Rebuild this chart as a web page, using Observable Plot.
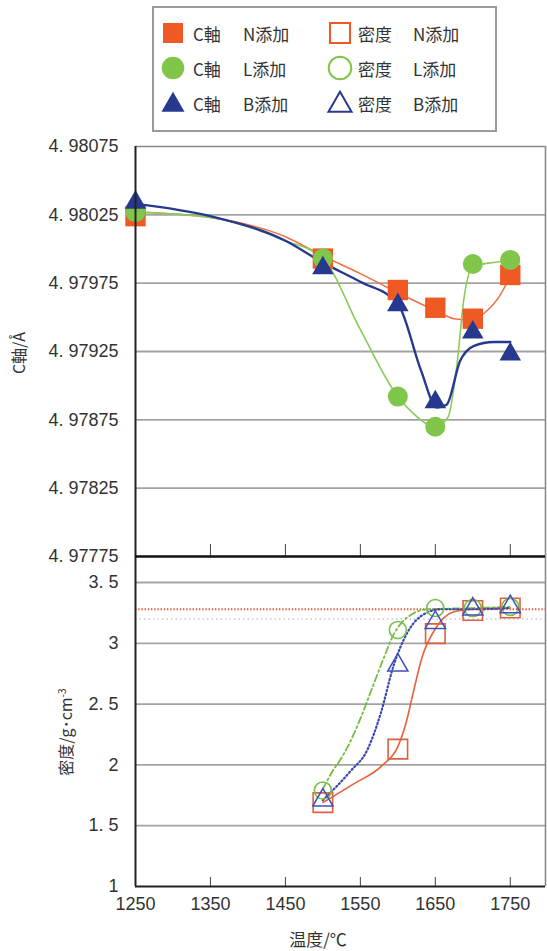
<!DOCTYPE html>
<html><head><meta charset="utf-8">
<script src="https://cdn.jsdelivr.net/npm/d3@7"></script>
<script src="https://cdn.jsdelivr.net/npm/@observablehq/plot@0.6"></script>
<style>
body{margin:0;background:#fff;}
#wrap{position:relative;width:547px;height:951px;overflow:hidden;background:#fff;font-family:"Liberation Sans",Arial,sans-serif;color:#333;}
.vlab{position:absolute;font-family:"Noto Sans CJK JP",sans-serif;color:#333;white-space:nowrap;transform:translate(-50%,-50%) rotate(-90deg);line-height:1;}
.xlab{position:absolute;font-family:"Noto Sans CJK JP",sans-serif;color:#333;white-space:nowrap;transform:translate(-50%,-50%);line-height:1;}
</style></head><body>
<div id="wrap"></div>
<script>
// ---------- data ----------
const temps = [1250, 1500, 1600, 1650, 1700, 1750];
const cAxisN = [4.98024, 4.97993, 4.97970, 4.97957, 4.97949, 4.97981];
const cAxisL = [4.98027, 4.97993, 4.97892, 4.97870, 4.97989, 4.97992];
const cAxisB = [4.98034, 4.97986, 4.97959, 4.97888, 4.97939, 4.97923];

const densT = [1500, 1600, 1650, 1700, 1750];
const densN = [1.69, 2.13, 3.08, 3.27, 3.29];
const densL = [1.79, 3.11, 3.29, 3.29, 3.30];
const densB = [1.71, 2.82, 3.17, 3.28, 3.30];

// fitted curves [temperature, value]
const fitCN = [[1250,4.98027],[1350,4.98023],[1450,4.98009],[1500,4.97995],[1550,4.97982],[1600,4.97968],[1650,4.97955],[1675,4.97949],[1700,4.97948],[1715,4.97953],[1735,4.97965],[1750,4.97980]];
const fitCL = [[1250,4.98027],[1350,4.98023],[1450,4.98006],[1500,4.97993],[1550,4.97941],[1600,4.97892],[1622,4.97879],[1650,4.97870],[1667,4.97877],[1679,4.97916],[1688,4.97963],[1700,4.97987],[1725,4.97990],[1750,4.97991]];
const fitCB = [[1250,4.98033],[1350,4.98024],[1450,4.98006],[1500,4.97990],[1550,4.97976],[1600,4.97960],[1631,4.97911],[1652,4.97884],[1665,4.97886],[1683,4.97918],[1701,4.97929],[1728,4.97932],[1750,4.97932]];

const fitDN = [[1500,1.69],[1540,1.84],[1580,2.00],[1600,2.15],[1612,2.37],[1620,2.58],[1632,2.88],[1650,3.12],[1675,3.26],[1700,3.28],[1750,3.29]];
const fitDL = [[1500,1.80],[1512,1.94],[1523,2.04],[1534,2.16],[1550,2.38],[1565,2.62],[1580,2.86],[1595,3.08],[1612,3.21],[1640,3.28],[1700,3.29],[1750,3.30]];
const fitDB = [[1500,1.71],[1537,1.95],[1559,2.12],[1577,2.42],[1594,2.81],[1612,3.08],[1630,3.22],[1657,3.28],[1700,3.28],[1750,3.29]];

const refDensityRed = [3.28];
const refDensityBlue = [3.20];

const xTicks = [1250, 1350, 1450, 1550, 1650, 1750];
const cTicks = [4.97775, 4.97825, 4.97875, 4.97925, 4.97975, 4.98025, 4.98075];
const dTicks = [1, 1.5, 2, 2.5, 3, 3.5];

const legendKinds = ["C軸", "密度"];
const legendAdds = ["N添加", "L添加", "B添加"];

// ---------- styles ----------
const ORANGE = "#ef5a24", GREEN = "#80c64a", BLUE = "#27398f";
const xDomain = [1250, 1797];
const fmtC = d => d.toFixed(5).replace(".", ". ");
const fmtD = d => Number.isInteger(d) ? String(d) : d.toFixed(1).replace(".", ". ");

const topRows = temps.map((t, i) => ({t, N: cAxisN[i], L: cAxisL[i], B: cAxisB[i]}));
const botRows = densT.map((t, i) => ({t, N: densN[i], L: densL[i], B: densB[i]}));

const wrap = document.getElementById("wrap");
const baseStyle = {fontFamily: "Liberation Sans, Arial, sans-serif", fontSize: "18px", color: "#333", background: "transparent", overflow: "visible"};

// ---------- legend ----------
const leg = d3.create("svg").attr("width", 547).attr("height", 140).style("position","absolute").style("left","0px").style("top","0px");
leg.append("rect").attr("x", 153).attr("y", 7).attr("width", 343).attr("height", 124).attr("fill", "#fff").attr("stroke", "#9a9a9a").attr("stroke-width", 2);
const rowY = [33, 68, 103];
const colors = [ORANGE, GREEN, BLUE];
const syms = [d3.symbolSquare, d3.symbolCircle, d3.symbolTriangle];
const symSize = [400, 400, 230];
legendAdds.forEach((add, r) => {
  legendKinds.forEach((kind, c) => {
    const mx = c === 0 ? 173 : 340;
    const g = leg.append("path").attr("d", d3.symbol(syms[r], symSize[r])()).attr("transform", `translate(${mx},${rowY[r] + (r===2?2:0)})`);
    if (c === 0) g.attr("fill", colors[r]);
    else g.attr("fill", "none").attr("stroke", colors[r]).attr("stroke-width", 2);
    const tx = c === 0 ? 193 : 358;
    const ax = c === 0 ? 243 : 413;
    leg.append("text").attr("x", tx).attr("y", rowY[r]).attr("dominant-baseline","central").attr("font-family","Noto Sans CJK JP").attr("font-size", 17).attr("fill","#333").text(kind);
    leg.append("text").attr("x", ax).attr("y", rowY[r]).attr("dominant-baseline","central").attr("font-family","Noto Sans CJK JP").attr("font-size", 17).attr("fill","#333").text(add);
  });
});

// ---------- top panel: C axis ----------
const topPlot = Plot.plot({
  width: 547, height: 440, marginLeft: 135, marginRight: 2, marginTop: 16, marginBottom: 14,
  x: {domain: xDomain, axis: null},
  y: {domain: [4.97775, 4.98075]},
  style: baseStyle,
  marks: [
    Plot.ruleY(cTicks.slice(1, -1), {stroke: "#a3a3a3", strokeWidth: 1.8}),
    Plot.ruleY([cTicks[cTicks.length - 1]], {stroke: "#8a8a8a", strokeWidth: 1.6}),
    Plot.ruleX([xDomain[1]], {stroke: "#8a8a8a", strokeWidth: 1.6}),
    Plot.ruleX(xTicks.slice(1), {insetTop: 398, stroke: "#444", strokeWidth: 1}),
    Plot.axisY({ticks: cTicks, tickFormat: fmtC, tickSize: 0, tickPadding: 17, label: null}),
    Plot.line(fitCN, {curve: "monotone-x", stroke: "#f07040", strokeWidth: 1.5}),
    Plot.line(fitCL, {curve: "monotone-x", stroke: "#8acb5a", strokeWidth: 1.6}),
    Plot.line(fitCB, {curve: "monotone-x", stroke: BLUE, strokeWidth: 2.4}),
    Plot.dot(topRows, {x: "t", y: "N", symbol: "square", r: 11.5, fill: ORANGE}),
    Plot.dot(topRows, {x: "t", y: "L", symbol: "circle", r: 10, fill: GREEN}),
    Plot.dot(topRows, {x: "t", y: "B", symbol: "triangle", r: 8, fill: BLUE}),
    Plot.ruleX([xDomain[0]], {stroke: "#222", strokeWidth: 2}),
    Plot.ruleY([cTicks[0]], {stroke: "#111", strokeWidth: 2.5})
  ]
});
topPlot.style.position = "absolute"; topPlot.style.left = "0px"; topPlot.style.top = "130px";

// ---------- bottom panel: density ----------
const botPlot = Plot.plot({
  width: 547, height: 411, marginLeft: 135, marginRight: 2, marginTop: 16, marginBottom: 65,
  x: {domain: xDomain},
  y: {domain: [1, 3.714]},
  style: baseStyle,
  marks: [
    Plot.ruleY(dTicks.slice(1), {stroke: "#a3a3a3", strokeWidth: 1.8}),
    Plot.ruleX([xDomain[1]], {stroke: "#8a8a8a", strokeWidth: 1.6}),
    Plot.ruleX(xTicks.slice(1), {insetTop: 321, stroke: "#444", strokeWidth: 1}),
    Plot.ruleY(refDensityBlue, {stroke: "#7f8fd8", strokeOpacity: 0.5, strokeWidth: 1.3, strokeDasharray: "1.5,3"}),
    Plot.ruleY(refDensityRed, {stroke: "#ee5533", strokeWidth: 2, strokeDasharray: "1.4,1.8"}),
    Plot.axisY({ticks: dTicks, tickFormat: fmtD, tickSize: 0, tickPadding: 17, label: null}),
    Plot.axisX({ticks: xTicks, tickFormat: d => String(d), tickSize: 0, tickPadding: 11, label: null}),
    Plot.line(fitDN, {curve: "monotone-x", stroke: "#e8603c", strokeWidth: 1.6}),
    Plot.line(fitDL, {curve: "monotone-x", stroke: "#74bd45", strokeWidth: 1.8, strokeDasharray: "7,3,2,3"}),
    Plot.line(fitDB, {curve: "monotone-x", stroke: "#3a48b0", strokeWidth: 2.2, strokeDasharray: "1.2,2.6"}),
    Plot.dot(botRows, {x: "t", y: "N", symbol: "square", r: 11, fill: "none", stroke: "#e0603c", strokeWidth: 1.6}),
    Plot.dot(botRows, {x: "t", y: "L", symbol: "circle", r: 8.5, fill: "none", stroke: "#78c048", strokeWidth: 1.6}),
    Plot.dot(botRows, {x: "t", y: "B", symbol: "triangle", r: 7.5, fill: "none", stroke: "#4050b8", strokeWidth: 1.5}),
    Plot.ruleX([xDomain[0]], {stroke: "#222", strokeWidth: 2}),
    Plot.ruleY([dTicks[0]], {stroke: "#222", strokeWidth: 2})
  ]
});
botPlot.style.position = "absolute"; botPlot.style.left = "0px"; botPlot.style.top = "540px";

wrap.appendChild(leg.node());
wrap.appendChild(botPlot);
wrap.appendChild(topPlot);

// axis titles
const yl1 = document.createElement("div"); yl1.className = "vlab"; yl1.style.left = "18px"; yl1.style.top = "353px"; yl1.style.fontSize = "16px"; yl1.textContent = "C軸/Å"; wrap.appendChild(yl1);
const yl2 = document.createElement("div"); yl2.className = "vlab"; yl2.style.left = "65px"; yl2.style.top = "732px"; yl2.style.fontSize = "16px"; yl2.innerHTML = "密度/g･cm<sup style='font-size:10px'>-3</sup>"; wrap.appendChild(yl2);
const xl = document.createElement("div"); xl.className = "xlab"; xl.style.left = "318px"; xl.style.top = "938px"; xl.style.fontSize = "17px"; xl.textContent = "温度/℃"; wrap.appendChild(xl);
</script>
</body></html>
